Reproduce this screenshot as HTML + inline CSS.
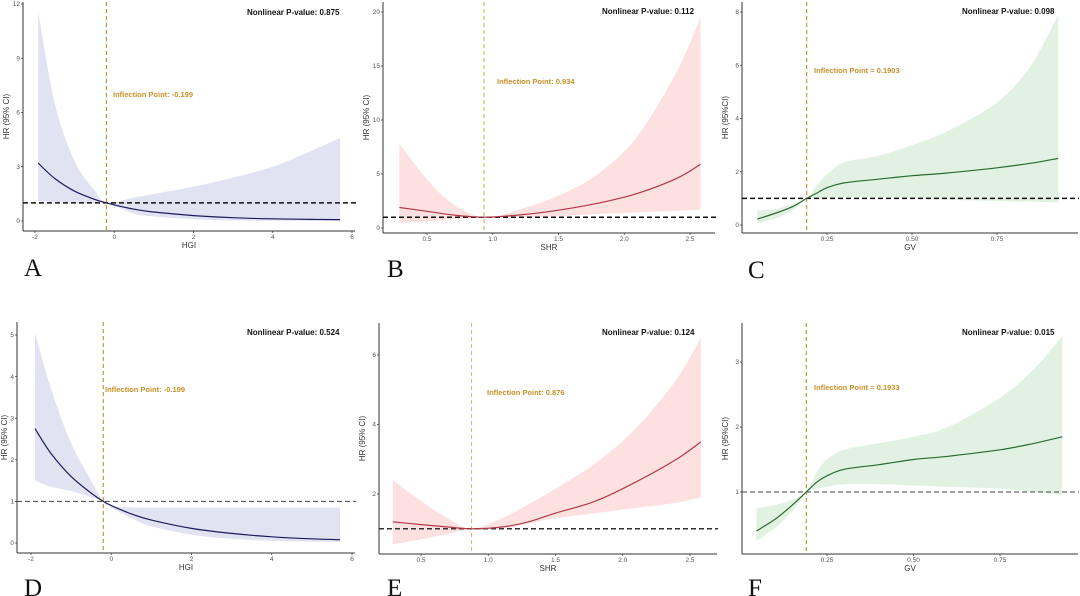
<!DOCTYPE html>
<html><head><meta charset="utf-8"><style>
html,body{margin:0;padding:0;background:#fff;}
svg{display:block;font-family:"Liberation Sans",sans-serif;}
.tick{font-size:6.5px;fill:#555;}
.ttl{font-size:8px;fill:#333;}
.pv{font-size:8px;font-weight:bold;fill:#111;}
.ip{font-size:7.5px;font-weight:bold;fill:#c8902a;}
.let{font-family:"Liberation Serif",serif;font-size:25px;fill:#111;}
</style></head><body>
<svg id="chart" width="1080" height="596" viewBox="0 0 1080 596" xmlns="http://www.w3.org/2000/svg"></svg>
<script>
// Panel A (HGI)
const aX=[-1.92,-1.5,-1,-0.5,-0.199,0.5,1,2,3,4,5,5.7];
const aHR=[3.2,2.35,1.65,1.2,1.0,0.65,0.5,0.3,0.18,0.12,0.09,0.08];
const aHi=[11.6,6.5,3.3,1.7,1.0,1.3,1.5,1.9,2.4,3.0,3.9,4.6];
const aLo=[1.1,1.05,1.02,1.0,1.0,0.4,0.25,0.1,0.03,0.01,0.0,0.0];
const aTicksX=[-2,0,2,4,6];const aTicksY=[0,3,6,9,12];
// Panel B (SHR)
const bX=[0.29,0.5,0.7,0.934,1.2,1.5,1.8,2.1,2.4,2.58];
const bHR=[1.9,1.55,1.2,1.0,1.2,1.65,2.3,3.2,4.6,5.9];
const bHi=[7.8,4.5,2.2,1.0,1.7,3.0,5.0,8.5,14.5,19.5];
const bLo=[0.5,0.6,0.8,1.0,1.0,1.1,1.3,1.45,1.6,1.7];
const bTicksX=[0.5,1.0,1.5,2.0,2.5];const bTicksY=[0,5,10,15,20];
// Panel C (GV)
const cX=[0.045,0.1,0.15,0.19,0.22,0.25,0.3,0.4,0.5,0.6,0.75,0.85,0.93];
const cHR=[0.22,0.45,0.7,1.0,1.2,1.4,1.58,1.72,1.85,1.95,2.15,2.32,2.5];
const cHi=[0.55,0.6,0.8,1.0,1.5,1.9,2.35,2.6,3.0,3.5,4.6,6.0,7.9];
const cLo=[0.05,0.25,0.55,0.98,1.0,1.0,1.05,1.05,1.0,0.95,0.9,0.87,0.85];
const cTicksX=[0.25,0.5,0.75];const cTicksY=[0,2,4,6,8];
// Panel D (HGI)
const dX=[-1.9,-1.5,-1,-0.5,-0.199,0,0.5,1,2,3,4,5,5.7];
const dHR=[2.75,2.15,1.6,1.2,1.0,0.9,0.7,0.55,0.35,0.23,0.15,0.1,0.08];
const dHi=[5.05,3.7,2.4,1.5,1.0,0.88,0.86,0.85,0.85,0.85,0.85,0.85,0.85];
const dLo=[1.5,1.35,1.25,1.1,1.0,0.85,0.6,0.4,0.2,0.1,0.05,0.03,0.02];
const dTicksX=[-2,0,2,4,6];const dTicksY=[0,1,2,3,4,5];
// Panel E (SHR)
const eX=[0.29,0.5,0.7,0.876,1.1,1.3,1.5,1.8,2.1,2.4,2.58];
const eHR=[1.2,1.12,1.05,1.0,1.05,1.2,1.45,1.8,2.35,3.0,3.5];
const eHi=[2.4,1.8,1.3,1.0,1.3,1.7,2.15,2.9,3.9,5.3,6.5];
const eLo=[0.55,0.7,0.85,1.0,1.0,1.15,1.3,1.45,1.6,1.75,1.9];
const eTicksX=[0.5,1.0,1.5,2.0,2.5];const eTicksY=[2,4,6];
// Panel F (GV)
const fX=[0.046,0.1,0.15,0.19,0.22,0.25,0.3,0.4,0.5,0.6,0.75,0.85,0.93];
const fHR=[0.4,0.58,0.8,1.0,1.15,1.25,1.35,1.42,1.5,1.55,1.65,1.75,1.85];
const fHi=[0.75,0.8,0.88,1.0,1.3,1.5,1.65,1.75,1.85,2.0,2.45,2.9,3.4];
const fLo=[0.25,0.45,0.7,0.98,1.05,1.08,1.12,1.12,1.1,1.08,1.05,1.0,0.95];
const fTicksX=[0.25,0.5,0.75];const fTicksY=[1,2,3];

const NS='http://www.w3.org/2000/svg';
const svg=document.getElementById('chart');
function mk(tag,attrs,parent){const e=document.createElementNS(NS,tag);for(const k in attrs)e.setAttribute(k,attrs[k]);(parent||svg).appendChild(e);return e;}
function smooth(pts){let d='M'+pts[0][0].toFixed(1)+','+pts[0][1].toFixed(1);
 for(let i=0;i<pts.length-1;i++){const p0=pts[i-1]||pts[i],p1=pts[i],p2=pts[i+1],p3=pts[i+2]||p2;
  const c1=[p1[0]+(p2[0]-p0[0])/6,p1[1]+(p2[1]-p0[1])/6],c2=[p2[0]-(p3[0]-p1[0])/6,p2[1]-(p3[1]-p1[1])/6];
  d+=' C'+c1[0].toFixed(1)+','+c1[1].toFixed(1)+' '+c2[0].toFixed(1)+','+c2[1].toFixed(1)+' '+p2[0].toFixed(1)+','+p2[1].toFixed(1);}
 return d;}
function fmt(v,dec){return v.toFixed(dec);}

function panel(P){
 const g=mk('g',{});
 
 
 const sx=v=>P.xr[0]+(v-P.xd[0])/(P.xd[1]-P.xd[0])*(P.xr[1]-P.xr[0]);
 const sy=v=>P.yr[0]+(v-P.yd[0])/(P.yd[1]-P.yd[0])*(P.yr[1]-P.yr[0]);
 const up=P.X.map((x,i)=>[sx(x),sy(P.hi[i])]);
 const lo=P.X.map((x,i)=>[sx(x),sy(P.lo[i])]).reverse();
 const band=mk('path',{d:smooth(up)+' L'+smooth(lo).slice(1)+' Z',fill:P.band,stroke:'none'},g);
 
 
 const ya=mk('line',{x1:P.ax,y1:P.top,x2:P.ax,y2:P.ay,stroke:'#333','stroke-width':1},g);
 
 
 const xa=mk('line',{x1:P.ax,y1:P.ay,x2:P.right,y2:P.ay,stroke:'#333','stroke-width':1},g);
 
 
 P.tx.forEach(t=>{const x=sx(t);mk('line',{x1:x,y1:P.ay,x2:x,y2:P.ay+2,stroke:'#333','stroke-width':0.7},g);
  const tl=mk('text',{x:x,y:P.ay+8,'text-anchor':'middle',class:'tick'},g);tl.textContent=fmt(t,P.xdec);
  
  });
 P.ty.forEach(t=>{const y=sy(t);mk('line',{x1:P.ax-2,y1:y,x2:P.ax,y2:y,stroke:'#333','stroke-width':0.7},g);
  const tl=mk('text',{x:P.ax-3,y:y+2.2,'text-anchor':'end',class:'tick'},g);tl.textContent=fmt(t,0);
  
  });
 const ry=sy(1);
 const rl=mk('line',{x1:P.ax,y1:ry,x2:P.right+1,y2:ry,stroke:P.refc,'stroke-width':P.refw,'stroke-dasharray':'5,3'},g);
 
 
 const vx=sx(P.ip);
 const vl=mk('line',{x1:vx,y1:P.top,x2:vx,y2:P.ay,stroke:P.vc||'#b8860b','stroke-width':1,'stroke-dasharray':'4,3'},g);
 
 
 const cv=mk('path',{d:smooth(P.X.map((x,i)=>[sx(x),sy(P.hr[i])])),fill:'none',stroke:P.line,'stroke-width':1.2},g);
 
 
 const pv=mk('text',{x:P.pvx,y:P.pvy,class:'pv'},g);pv.textContent=P.pvt;
 
 
 const ip=mk('text',{x:P.ipx,y:P.ipy,class:'ip'},g);ip.textContent=P.ipt;
 
 
 const xt=mk('text',{x:(P.ax+P.right)/2,y:P.ay+17,'text-anchor':'middle',class:'ttl'},g);xt.textContent=P.xt;
 
 
 const ymid=(P.top+P.ay)/2;
 const ytx=Math.max(P.ax-14,7);
 const yt=mk('text',{x:ytx,y:ymid,'text-anchor':'middle',class:'ttl',transform:'rotate(-90 '+ytx+' '+ymid+')'},g);yt.textContent=P.yt;
 
 
 const lt=mk('text',{x:P.lx,y:P.ly,class:'let'},g);lt.textContent=P.id.toUpperCase();
 
 
}
const blue={band:'#e2e3f2',line:'#1c1c5c'},red={band:'#fde0e0',line:'#b03a48'},green={band:'#e2f2e2',line:'#2b6a33'};
panel(Object.assign({id:'a',X:aX,hr:aHR,hi:aHi,lo:aLo,tx:aTicksX,ty:aTicksY,xdec:0,xd:[-2,6],xr:[35,352],yd:[0,12],yr:[221,4],ax:23,ay:231,top:2,right:355,ip:-0.199,refc:'#111',refw:1.5,pvx:247,pvy:15,pvt:'Nonlinear P-value:  0.875',ipx:113,ipy:97,ipt:'Inflection Point: -0.199',xt:'HGI',yt:'HR (95% CI)',lx:24,ly:276},blue));
panel(Object.assign({id:'b',X:bX,hr:bHR,hi:bHi,lo:bLo,tx:bTicksX,ty:bTicksY,xdec:1,xd:[0.5,2.5],xr:[427,690],yd:[0,20],yr:[228,12],ax:383,ay:233,top:2,right:715,ip:0.934,refc:'#111',refw:1.5,vc:'#d8a84a',pvx:602,pvy:14,pvt:'Nonlinear P-value:  0.112',ipx:497,ipy:84,ipt:'Inflection Point: 0.934',xt:'SHR',yt:'HR (95% CI)',lx:387,ly:277},red));
panel(Object.assign({id:'c',X:cX,hr:cHR,hi:cHi,lo:cLo,tx:cTicksX,ty:cTicksY,xdec:2,xd:[0.25,0.75],xr:[827,997],yd:[0,8],yr:[225,12],ax:742,ay:233,top:2,right:1078,ip:0.1903,refc:'#111',refw:1.5,pvx:962,pvy:14,pvt:'Nonlinear P-value:  0.098',ipx:814,ipy:73,ipt:'Inflection Point = 0.1903',xt:'GV',yt:'HR (95%CI)',lx:748,ly:278},green));
panel(Object.assign({id:'d',X:dX,hr:dHR,hi:dHi,lo:dLo,tx:dTicksX,ty:dTicksY,xdec:0,xd:[-2,6],xr:[31,352],yd:[0,5],yr:[543,335],ax:17,ay:553,top:322,right:355,ip:-0.199,refc:'#444',refw:1,pvx:247,pvy:335,pvt:'Nonlinear P-value:  0.524',ipx:105,ipy:392,ipt:'Inflection Point: -0.199',xt:'HGI',yt:'HR (95% CI)',lx:24,ly:596},blue));
panel(Object.assign({id:'e',X:eX,hr:eHR,hi:eHi,lo:eLo,tx:eTicksX,ty:eTicksY,xdec:1,xd:[0.5,2.5],xr:[421,690],yd:[2,6],yr:[494,355],ax:379,ay:554,top:323,right:717,ip:0.876,refc:'#333',refw:1.5,vc:'#d8b070',pvx:602,pvy:335,pvt:'Nonlinear P-value:  0.124',ipx:487,ipy:395,ipt:'Inflection Point: 0.876',xt:'SHR',yt:'HR (95% CI)',lx:387,ly:596},red));
panel(Object.assign({id:'f',X:fX,hr:fHR,hi:fHi,lo:fLo,tx:fTicksX,ty:fTicksY,xdec:2,xd:[0.25,0.75],xr:[827,1000],yd:[1,3],yr:[492,362],ax:742,ay:554,top:323,right:1078,ip:0.19,refc:'#444',refw:1,pvx:962,pvy:335,pvt:'Nonlinear P-value:  0.015',ipx:814,ipy:390,ipt:'Inflection Point = 0.1933',xt:'GV',yt:'HR (95%CI)',lx:748,ly:596},green));
</script>
</body></html>
